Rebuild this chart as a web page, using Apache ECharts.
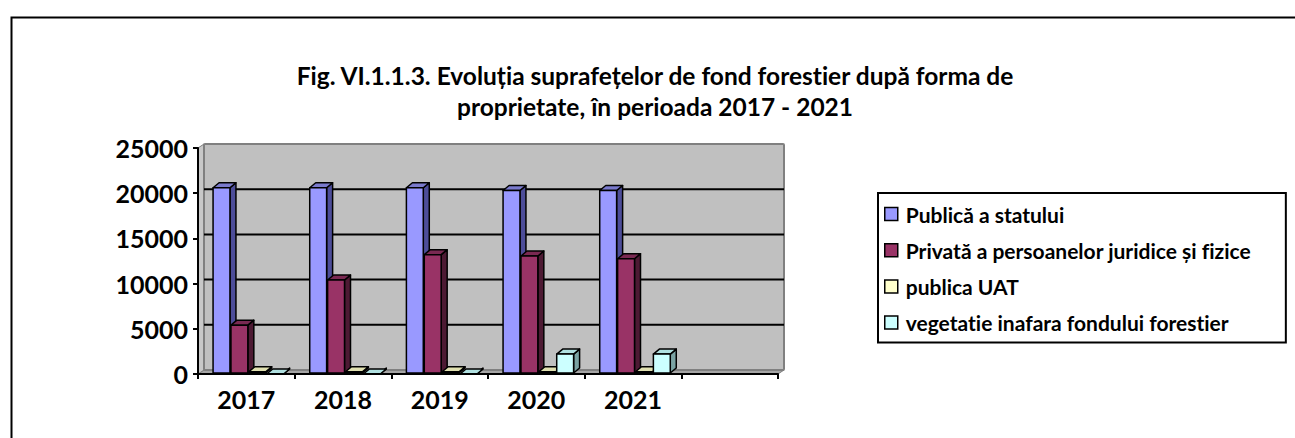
<!DOCTYPE html>
<html><head><meta charset="utf-8">
<script src="https://cdn.jsdelivr.net/npm/echarts@6/dist/echarts.min.js"></script>
<style>html,body{margin:0;padding:0;background:#fff}#c{width:1295px;height:438px}
svg text, #c text{font-variant-ligatures:none !important;font-feature-settings:"liga" 0, "clig" 0 !important;}</style>
</head><body><div id="c"></div>
<script>
const categories = ['2017', '2018', '2019', '2020', '2021', ''];
const seriesNames = ['Publică a statului', 'Privată a persoanelor juridice și fizice', 'publica UAT', 'vegetatie inafara fondului forestier'];
const publicaStatului = [20600, 20600, 20600, 20300, 20300];
const privata = [5400, 10400, 13200, 13050, 12750];
const publicaUAT = [250, 250, 250, 250, 250];
const vegetatie = [0, 0, 0, 2200, 2200];
const yTicks = [0, 5000, 10000, 15000, 20000, 25000];
const titleText = 'Fig. VI.1.1.3. Evoluția suprafețelor de fond forestier după forma de\nproprietate, în perioada 2017 - 2021';

const FONT = 'Lato';
const palettes = [
  {front: '#9999FF', side: '#4D4D99', top: '#7A7ACC'},
  {front: '#993366', side: '#4D1A33', top: '#7A2952'},
  {front: '#FFFFCC', side: '#99997A', top: '#E0E0B0'},
  {front: '#CCFFFF', side: '#7AA3A3', top: '#B0E0E0'}
];
const allValues = [publicaStatului, privata, publicaUAT, vegetatie];
const BDX = 6, BDY = 5;   // bar depth
const WDX = 6, WDY = 4;   // wall depth

function barRenderer(si) {
  const pal = palettes[si];
  return function (params, api) {
    const cat = api.value(0), val = api.value(1);
    const base = api.coord([cat, 0]);
    const tp = api.coord([cat, val]);
    const band = api.size([1, 0])[0];
    const slot = band * 0.185;
    const fw = slot - 1;
    const cx = base[0] + 2 + (si - 1.5) * slot;
    const x0 = cx - fw / 2, x1 = cx + fw / 2;
    const yb = base[1] - 1, yt = tp[1];
    const stroke = {stroke: '#000', lineWidth: 1.5, lineJoin: 'round'};
    return {
      type: 'group',
      children: [
        {type: 'polygon', shape: {points: [[x1, yb], [x1 + BDX, yb - BDY], [x1 + BDX, yt - BDY], [x1, yt]]},
          style: Object.assign({fill: pal.side}, stroke)},
        {type: 'polygon', shape: {points: [[x0, yt], [x0 + BDX, yt - BDY], [x1 + BDX, yt - BDY], [x1, yt]]},
          style: Object.assign({fill: pal.top}, stroke)},
        {type: 'rect', shape: {x: x0, y: yt, width: fw, height: Math.max(0, yb - yt)},
          style: Object.assign({fill: pal.front}, stroke)}
      ]
    };
  };
}

function wallRenderer(params, api) {
  const cs = params.coordSys;
  const L = cs.x, T = cs.y, R = cs.x + cs.width, B = cs.y + cs.height;
  const children = [];
  children.push({type: 'polygon', shape: {points: [[L, B], [L + WDX, B - WDY], [R + WDX, B - WDY], [R, B]]},
    style: {fill: '#A6A6A6', stroke: '#808080', lineWidth: 1}});
  children.push({type: 'polygon', shape: {points: [[L, B], [L, T], [L + WDX, T - WDY], [L + WDX, B - WDY]]},
    style: {fill: '#C8C8C8', stroke: '#808080', lineWidth: 1}});
  children.push({type: 'rect', shape: {x: L + WDX, y: T - WDY, width: cs.width, height: cs.height, r: 1},
    style: {fill: '#C0C0C0', stroke: '#808080', lineWidth: 2}});
  yTicks.forEach(function (v) {
    if (v === 0 || v === yTicks[yTicks.length - 1]) return;
    const y = api.coord([0, v])[1] - WDY;
    children.push({type: 'line', shape: {x1: L + WDX, y1: y, x2: R + WDX, y2: y},
      style: {stroke: '#000', lineWidth: 2}});
  });
  return {type: 'group', children: children};
}

const chart = echarts.init(document.getElementById('c'), null, {renderer: 'svg'});
const series = [{
  type: 'custom', name: '_wall', silent: true, z: 1,
  data: [[0, 0]], encode: {x: 0, y: 1},
  renderItem: wallRenderer
}];
allValues.forEach(function (vals, si) {
  series.push({
    type: 'custom', name: seriesNames[si], z: 3 + si,
    itemStyle: {color: palettes[si].front},
    encode: {x: 0, y: 1},
    data: vals.map(function (v, i) { return [i, v]; }),
    renderItem: barRenderer(si)
  });
});

chart.setOption({
  animation: false,
  backgroundColor: '#fff',
  textStyle: {fontFamily: FONT},
  title: {
    text: titleText, left: 650, top: 55, textAlign: 'center',
    textStyle: {fontFamily: FONT, fontWeight: 'bold', fontSize: 24.5, lineHeight: 31, color: '#000'}
  },
  grid: {left: 198, top: 148, width: 580, height: 226, containLabel: false, show: false},
  legend: {
    data: seriesNames, orient: 'vertical', left: 878, top: 193,
    icon: 'rect', itemWidth: 13, itemHeight: 13, itemGap: 14.2,
    padding: [10, 35, 9, 6],
    borderColor: '#000', borderWidth: 2, backgroundColor: '#fff',
    itemStyle: {borderColor: '#000', borderWidth: 1.5},
    textStyle: {fontFamily: FONT, fontWeight: 'bold', fontSize: 21, lineHeight: 22, color: '#000', padding: [0, 0, 0, 3]}
  },
  xAxis: {
    type: 'category', data: categories, boundaryGap: true, z: 10,
    axisLine: {show: true, lineStyle: {color: '#000', width: 2}},
    axisTick: {show: true, length: 5, alignWithLabel: false, lineStyle: {color: '#000', width: 2}},
    axisLabel: {show: true, interval: 0, margin: 12, fontFamily: FONT, fontWeight: 'bold', fontSize: 25, color: '#000'},
    splitLine: {show: false}
  },
  yAxis: {
    type: 'value', min: 0, max: 25000, interval: 5000, z: 10,
    axisLine: {show: true, lineStyle: {color: '#000', width: 2}},
    axisTick: {show: true, length: 5, lineStyle: {color: '#000', width: 2}},
    axisLabel: {show: true, margin: 10, fontFamily: FONT, fontWeight: 'bold', fontSize: 25, color: '#000',
      formatter: function (v) { return String(v); }},
    splitLine: {show: false}
  },
  graphic: [{
    type: 'rect', left: 9, top: 15, z: 100, silent: true,
    shape: {x: 0, y: 0, width: 1400, height: 600},
    style: {fill: 'none', stroke: '#000', lineWidth: 2}
  }],
  series: series
});
</script></body></html>
